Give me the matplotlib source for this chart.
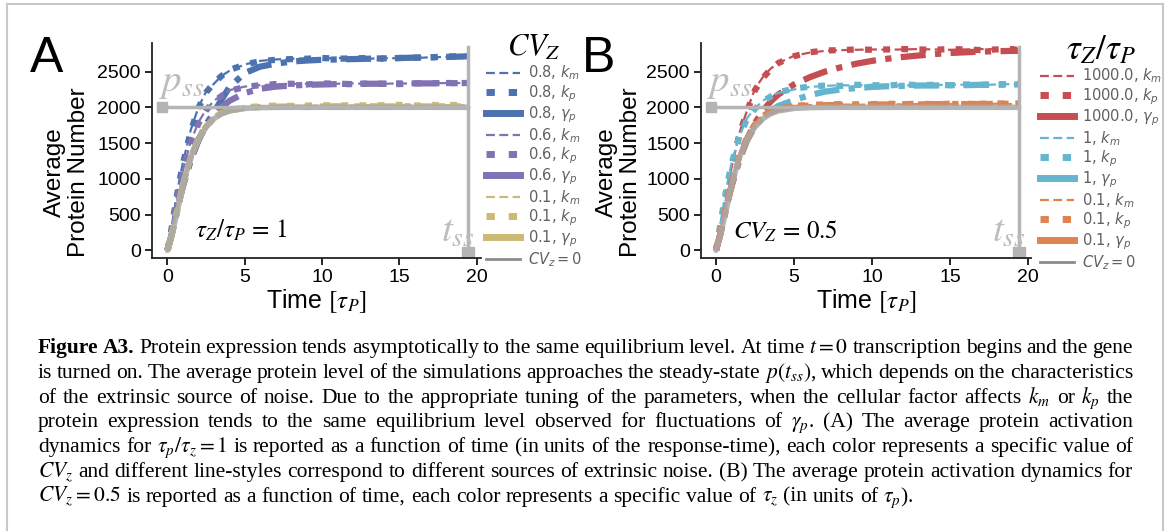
import re
import matplotlib
matplotlib.use("Agg")
import matplotlib.pyplot as plt
from matplotlib.lines import Line2D
from matplotlib.font_manager import FontProperties

plt.rcParams["mathtext.fontset"] = "stix"
plt.rcParams["font.family"] = ["Liberation Sans", "DejaVu Sans"]

# ---- data ----
t = [0, 0.25, 0.5, 0.75, 1, 1.5, 2, 2.5, 3, 3.5, 4, 5, 6, 7, 8, 9, 10,
     11, 12, 13, 14, 15, 16, 17, 18, 19, 19.4]

base = [0, 190, 420, 660, 920, 1300, 1560, 1725, 1840, 1910, 1950, 1985, 1996, 2000, 2001,
        2000, 2001, 2000, 2001, 2000, 2000, 2001, 2000, 2001, 2000, 2000, 2000]

# panel A: tau_Z/tau_P = 1, colours = CV_Z
a_labels = ["0.8", "0.6", "0.1"]
a_km = [
    [0, 300, 640, 960, 1230, 1680, 2000, 2220, 2330, 2440, 2510, 2600, 2650, 2670, 2680,
     2685, 2680, 2690, 2685, 2680, 2690, 2685, 2690, 2700, 2705, 2715, 2720],
    [0, 260, 580, 880, 1120, 1520, 1790, 1970, 2090, 2170, 2240, 2290, 2310, 2320, 2325,
     2330, 2320, 2330, 2335, 2325, 2330, 2335, 2330, 2335, 2340, 2340, 2345],
    [0, 200, 440, 680, 930, 1300, 1570, 1740, 1855, 1930, 1970, 2005, 2015, 2020, 2025,
     2020, 2025, 2030, 2025, 2030, 2025, 2030, 2030, 2025, 2030, 2030, 2030],
]
a_kp = [
    [0, 280, 620, 940, 1210, 1660, 1990, 2210, 2340, 2440, 2520, 2600, 2645, 2665, 2675,
     2680, 2690, 2680, 2685, 2690, 2680, 2690, 2695, 2700, 2710, 2715, 2725],
    [0, 250, 560, 860, 1100, 1500, 1770, 1960, 2080, 2160, 2230, 2285, 2310, 2325, 2330,
     2320, 2335, 2330, 2325, 2335, 2330, 2325, 2335, 2340, 2335, 2340, 2345],
    [0, 195, 430, 670, 925, 1295, 1565, 1735, 1850, 1925, 1965, 2000, 2015, 2025, 2020,
     2025, 2030, 2025, 2030, 2025, 2030, 2035, 2025, 2030, 2035, 2030, 2035],
]
a_gp = [
    [0, 200, 440, 680, 900, 1260, 1540, 1760, 1930, 2110, 2280, 2480, 2570, 2610, 2640,
     2655, 2665, 2670, 2675, 2680, 2685, 2690, 2695, 2700, 2705, 2710, 2715],
    [0, 200, 440, 680, 900, 1260, 1540, 1740, 1880, 2000, 2090, 2200, 2260, 2290, 2305,
     2315, 2320, 2325, 2325, 2330, 2330, 2335, 2335, 2335, 2340, 2340, 2340],
    [0, 190, 425, 665, 920, 1300, 1560, 1728, 1845, 1915, 1955, 1992, 2005, 2010, 2012,
     2010, 2012, 2015, 2012, 2015, 2012, 2015, 2015, 2012, 2015, 2015, 2015],
]

# panel B: CV_Z = 0.5, colours = tau_Z/tau_P
b_labels = ["1000.0", "1", "0.1"]
b_km = [
    [0, 260, 560, 880, 1160, 1640, 1960, 2260, 2420, 2540, 2620, 2720, 2765, 2790, 2800,
     2805, 2810, 2805, 2810, 2815, 2810, 2805, 2810, 2815, 2810, 2805, 2810],
    [0, 330, 660, 960, 1220, 1600, 1850, 1990, 2090, 2160, 2200, 2250, 2285, 2300, 2310,
     2305, 2315, 2310, 2305, 2315, 2310, 2320, 2315, 2310, 2320, 2325, 2320],
    [0, 220, 470, 720, 950, 1320, 1590, 1770, 1880, 1950, 1990, 2020, 2030, 2035, 2040,
     2035, 2040, 2045, 2040, 2045, 2040, 2045, 2050, 2045, 2050, 2045, 2050],
]
b_kp = [
    [0, 250, 550, 870, 1150, 1620, 1950, 2240, 2410, 2530, 2620, 2715, 2770, 2795, 2800,
     2810, 2805, 2810, 2815, 2810, 2805, 2815, 2810, 2800, 2810, 2815, 2800],
    [0, 320, 650, 950, 1210, 1590, 1840, 1980, 2080, 2150, 2210, 2260, 2290, 2305, 2300,
     2315, 2310, 2305, 2320, 2310, 2315, 2310, 2320, 2315, 2325, 2320, 2330],
    [0, 215, 465, 715, 945, 1315, 1585, 1765, 1875, 1945, 1985, 2020, 2035, 2040, 2045,
     2040, 2045, 2050, 2045, 2050, 2045, 2050, 2045, 2050, 2055, 2050, 2055],
]
b_gp = [
    [0, 200, 440, 680, 900, 1270, 1560, 1780, 1950, 2080, 2180, 2320, 2420, 2500, 2560,
     2610, 2650, 2680, 2705, 2725, 2745, 2760, 2770, 2780, 2785, 2790, 2790],
    [0, 200, 440, 680, 900, 1260, 1540, 1730, 1860, 1950, 2020, 2100, 2170, 2220, 2250,
     2270, 2285, 2295, 2300, 2305, 2305, 2310, 2310, 2315, 2315, 2320, 2320],
    [0, 200, 440, 680, 910, 1280, 1550, 1740, 1860, 1930, 1975, 2010, 2025, 2030, 2035,
     2035, 2040, 2040, 2045, 2040, 2045, 2045, 2050, 2045, 2050, 2050, 2050],
]

p_ss = 2000
t_ss = 19.4

colors_a = ["#4C72B0", "#8172B3", "#CCB974"]
colors_b = ["#C44E52", "#64B5CD", "#DD8452"]

KM = dict(lw=1.6, linestyle=(0, (4, 2)))
KP = dict(lw=4.5, linestyle=(0, (1.1, 1.8)))
GP = dict(lw=4.5, linestyle=(0, (4, 1.5, 1, 1.5)))
GRAY = "#a8a8a8"

fig = plt.figure(figsize=(11.7, 5.31), dpi=100)
W, H = 1170, 531


def fx(px):
    return px / W


def fy(py):
    return 1 - py / H


axA = fig.add_axes([fx(152), fy(258), 329 / W, 215 / H])
axB = fig.add_axes([fx(701), fy(258), 330 / W, 215 / H])

leg_prop = FontProperties(family="DejaVu Sans", size=10.5, math_fontfamily="dejavusans")


def panel(ax, km, kp, gp, colors, labels, note, note_xy, title, title_size, leg_x, xlim,
          ylab_x):
    for i in range(3):
        ax.plot(t, km[i], color=colors[i], **KM)
        ax.plot(t, kp[i], color=colors[i], **KP)
        ax.plot(t, gp[i], color=colors[i], **GP)
    ax.plot(t, base, color=GRAY, lw=4, alpha=0.85, solid_capstyle="round")
    # steady state guides
    ax.plot([-0.33, t_ss], [p_ss, p_ss], color="#b4b4b4", lw=2.5,
            marker="s", markevery=[0], ms=7)
    ax.plot([t_ss, t_ss], [-40, 2840], color="#b4b4b4", lw=2.5,
            marker="s", markevery=[0], ms=8)
    ax.text(-0.55, 2235, r"$p_{ss}$", fontsize=28, color="#bdbdbd")
    ax.text(17.7, 120, r"$t_{ss}$", fontsize=28, color="#bdbdbd")
    ax.text(note_xy[0], note_xy[1], note, fontsize=18)

    ax.set_xlim(*xlim)
    ax.set_ylim(-108, 2900)
    ax.set_xticks([0, 5, 10, 15, 20])
    ax.set_yticks([0, 500, 1000, 1500, 2000, 2500])
    for s in ["top", "right"]:
        ax.spines[s].set_visible(False)
    for s in ["left", "bottom"]:
        ax.spines[s].set_linewidth(1.3)
        ax.spines[s].set_color("#222222")
    ax.tick_params(direction="out", length=5, width=1.2, labelsize=14, pad=3)
    ax.set_xlabel(r"Time $[\tau_P]$", fontsize=18, labelpad=1)
    ax.set_ylabel("Average\nProtein Number", fontsize=17.5, linespacing=1.1)
    ax.yaxis.set_label_coords(ylab_x, 0.4)

    handles, names = [], []
    for i in range(3):
        for sty, sub in [(KM, "k_m"), (dict(lw=5, linestyle=(0, (1.2, 2))), "k_p"),
                         (dict(lw=5, linestyle="-"), r"\gamma_p")]:
            handles.append(Line2D([], [], color=colors[i], **sty))
            names.append(f"{labels[i]}, ${sub}$")
    handles.append(Line2D([], [], color="#8c8c8c", lw=2))
    names.append(r"$CV_z = 0$")
    leg = ax.legend(handles, names, loc="upper left", bbox_to_anchor=(fx(leg_x), fy(33)),
                    bbox_transform=fig.transFigure, frameon=False, prop=leg_prop,
                    borderpad=0, borderaxespad=0, labelspacing=0.05, handlelength=2.3,
                    handletextpad=0.55, title=title,
                    title_fontproperties=FontProperties(size=title_size, math_fontfamily="stix"))
    for txt in leg.get_texts():
        txt.set_color("#606060")


panel(axA, a_km, a_kp, a_gp, colors_a, a_labels, r"$\tau_Z/\tau_P\,=\,1$", (1.8, 177),
      r"$CV_Z$", 22, 486, (-1.0, 20.27), -0.188)
panel(axB, b_km, b_kp, b_gp, colors_b, b_labels, r"$CV_Z\,=\,0.5$", (1.1, 163),
      r"$\tau_Z/\tau_P$", 25, 1040, (-0.96, 20.2), -0.18)

fig.text(fx(30), fy(72), "A", fontsize=36, va="baseline")
fig.text(fx(582), fy(72), "B", fontsize=36, va="baseline")

# frame around the figure
for xs, ys in [([7, 7], [4, 531]), ([7, 1163], [4, 4]), ([1163, 1163], [4, 531])]:
    fig.add_artist(Line2D([fx(x) for x in xs], [fy(y) for y in ys], color="#c8c8c8", lw=1.5))

# caption, justified line by line
caption = [
    r"Figure A3. Protein expression tends asymptotically to the same equilibrium level. At time $t = 0$ transcription begins and the gene",
    r"is turned on. The average protein level of the simulations approaches the steady-state $p(t_{ss})$, which depends on the characteristics",
    r"of the extrinsic source of noise. Due to the appropriate tuning of the parameters, when the cellular factor affects $k_m$ or $k_p$ the",
    r"protein expression tends to the same equilibrium level observed for fluctuations of $\gamma_p$. (A) The average protein activation",
    r"dynamics for $\tau_p/\tau_z = 1$ is reported as a function of time (in units of the response-time), each color represents a specific value of",
    r"$CV_z$ and different line-styles correspond to different sources of extrinsic noise. (B) The average protein activation dynamics for",
    r"$CV_z = 0.5$ is reported as a function of time, each color represents a specific value of $\tau_z$ (in units of $\tau_p$).",
]
cap_size = 15.5
x0, x1 = 38, 1133
renderer = fig.canvas.get_renderer()
for k, line in enumerate(caption):
    y = 353 + k * 24.8
    toks = re.findall(r"(?:\$[^$]*\$|[^\s$])+", line)
    arts = []
    for i, tok in enumerate(toks):
        bold = k == 0 and i < 2
        arts.append(fig.text(0, fy(y), tok, fontsize=cap_size, family="Liberation Serif",
                             weight="bold" if bold else "normal", va="baseline"))
    widths = [a.get_window_extent(renderer).width for a in arts]
    if k < len(caption) - 1:
        gap = (x1 - x0 - sum(widths)) / (len(toks) - 1)
    else:
        gap = cap_size * 100 / 72 * 0.25
    x = x0
    for a, w in zip(arts, widths):
        a.set_x(fx(x))
        x += w + gap

fig.savefig("out.png", dpi=100)
